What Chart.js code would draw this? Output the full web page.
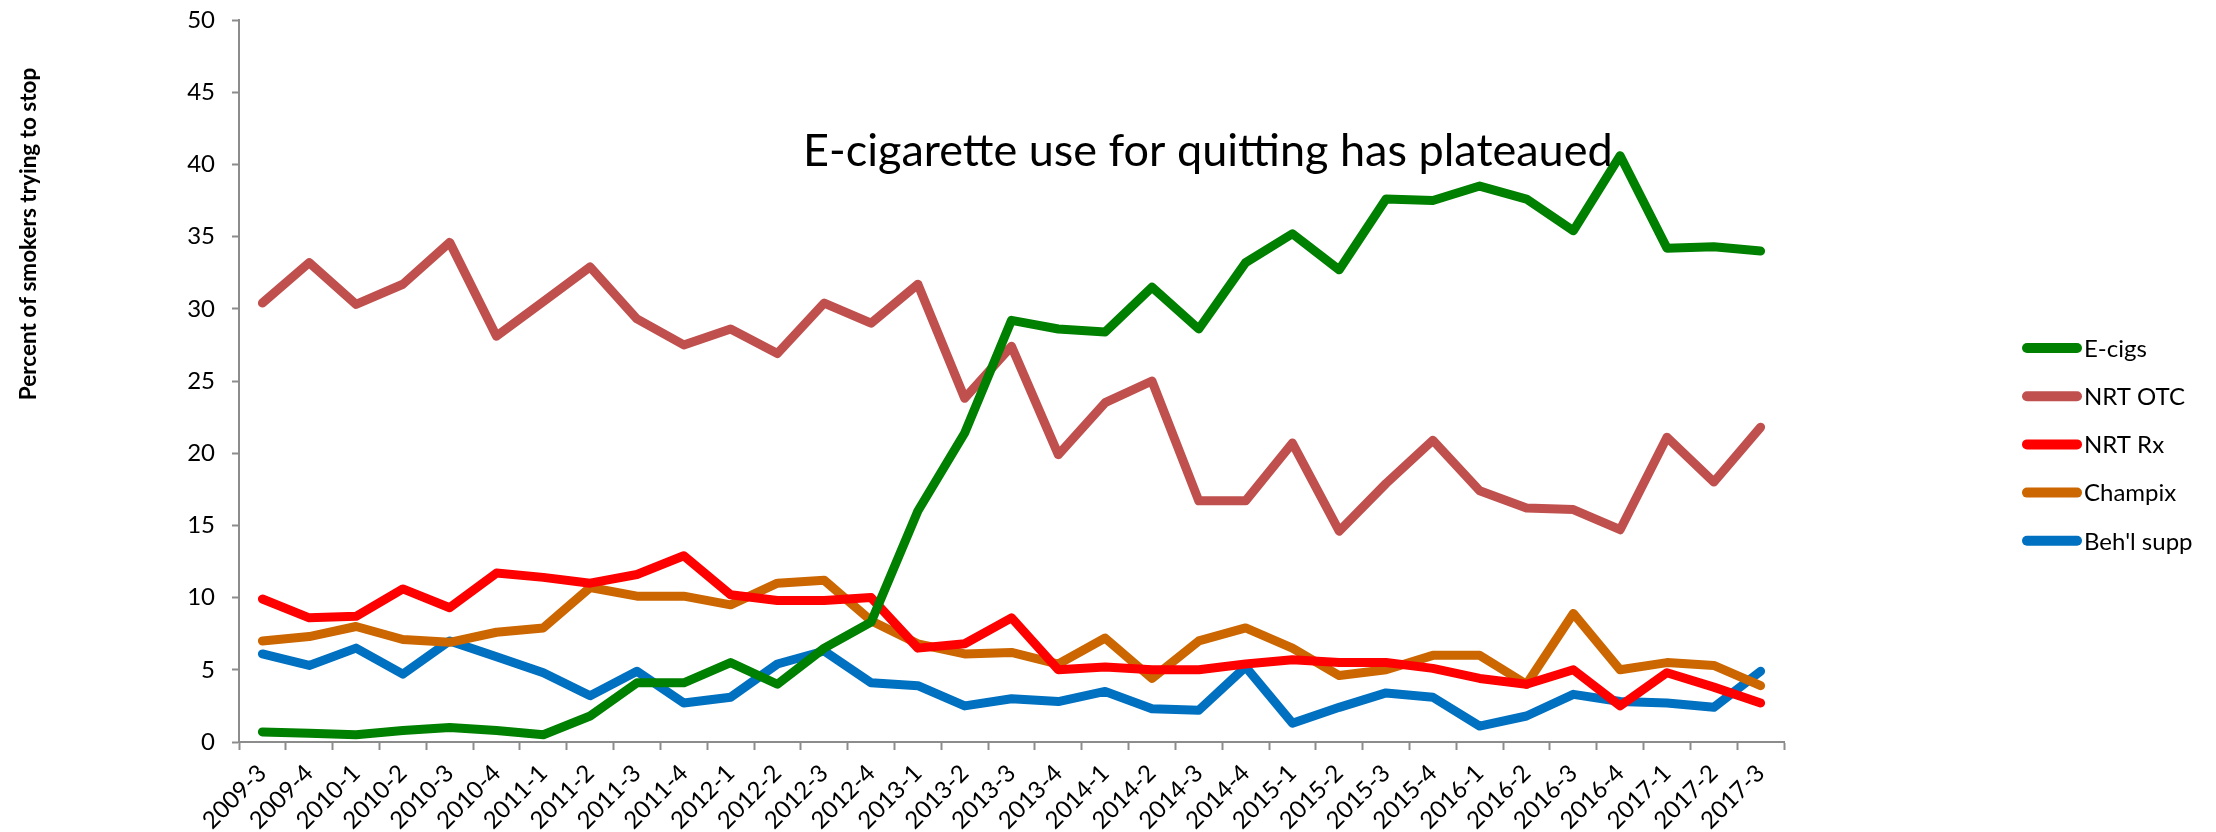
<!DOCTYPE html>
<html>
<head>
<meta charset="utf-8">
<script src="https://cdn.jsdelivr.net/npm/chart.js@4"></script>
<style>
  html, body { margin: 0; padding: 0; background: #ffffff; }
  #wrap { width: 2216px; height: 832px; position: relative; }
</style>
</head>
<body>
<div id="wrap"><canvas id="chart" width="2216" height="832"></canvas></div>
<script>
// Quarterly survey waves
const quarters = [
  '2009-3','2009-4','2010-1','2010-2','2010-3','2010-4','2011-1','2011-2','2011-3','2011-4',
  '2012-1','2012-2','2012-3','2012-4','2013-1','2013-2','2013-3','2013-4','2014-1','2014-2',
  '2014-3','2014-4','2015-1','2015-2','2015-3','2015-4','2016-1','2016-2','2016-3','2016-4',
  '2017-1','2017-2','2017-3'
];

// Percent of smokers trying to stop who used each aid
const eCigs = [0.7, 0.6, 0.5, 0.8, 1.0, 0.8, 0.5, 1.8, 4.1, 4.1,
  5.5, 4.0, 6.5, 8.3, 16.0, 21.4, 29.2, 28.6, 28.4, 31.5,
  28.6, 33.2, 35.2, 32.7, 37.6, 37.5, 38.5, 37.6, 35.4, 40.6,
  34.2, 34.3, 34.0];
const nrtOtc = [30.4, 33.2, 30.3, 31.7, 34.6, 28.1, 30.5, 32.9, 29.3, 27.5,
  28.6, 26.9, 30.4, 29.0, 31.7, 23.8, 27.4, 19.9, 23.5, 25.0,
  16.7, 16.7, 20.7, 14.6, 17.9, 20.9, 17.4, 16.2, 16.1, 14.7,
  21.1, 18.0, 21.8];
const nrtRx = [9.9, 8.6, 8.7, 10.6, 9.3, 11.7, 11.4, 11.0, 11.6, 12.9,
  10.2, 9.8, 9.8, 10.0, 6.5, 6.8, 8.6, 5.0, 5.2, 5.0,
  5.0, 5.4, 5.7, 5.5, 5.5, 5.1, 4.4, 4.0, 5.0, 2.5,
  4.8, 3.8, 2.7];
const champix = [7.0, 7.3, 8.0, 7.1, 6.9, 7.6, 7.9, 10.7, 10.1, 10.1,
  9.5, 11.0, 11.2, 8.4, 6.8, 6.1, 6.2, 5.4, 7.2, 4.4,
  7.0, 7.9, 6.5, 4.6, 5.0, 6.0, 6.0, 4.0, 8.9, 5.0,
  5.5, 5.3, 3.9];
const behlSupp = [6.1, 5.3, 6.5, 4.7, 7.0, 5.9, 4.8, 3.2, 4.9, 2.7,
  3.1, 5.4, 6.3, 4.1, 3.9, 2.5, 3.0, 2.8, 3.5, 2.3,
  2.2, 5.2, 1.3, 2.4, 3.4, 3.1, 1.1, 1.8, 3.3, 2.8,
  2.7, 2.4, 4.9];

const yTicks = [0, 5, 10, 15, 20, 25, 30, 35, 40, 45, 50];

const seriesNames = ['E-cigs', 'NRT OTC', 'NRT Rx', 'Champix', "Beh'l supp"];
const seriesColors = ['#008000', '#C0504D', '#FF0000', '#CC6600', '#0070C0'];
const seriesData = [eCigs, nrtOtc, nrtRx, champix, behlSupp];

const headline = 'E-cigarette use for quitting has plateaued';
const yTitle = 'Percent of smokers trying to stop';

const FONT = 'Lato, "Open Sans", sans-serif';
const AXIS_GREY = '#8c8c8c';

// Headline, rotated axis title and the stacked legend on the right
const overlay = {
  id: 'overlay',
  afterDraw(chart) {
    const ctx = chart.ctx;
    ctx.save();
    ctx.fillStyle = '#000';
    ctx.font = '45px ' + FONT;
    ctx.textAlign = 'left';
    ctx.textBaseline = 'alphabetic';
    ctx.fillText(headline, 803, 166);

    ctx.save();
    ctx.translate(29, 234);
    ctx.rotate(-Math.PI / 2);
    ctx.font = 'bold 22.5px ' + FONT;
    ctx.textAlign = 'center';
    ctx.textBaseline = 'middle';
    ctx.fillText(yTitle, 0, 0);
    ctx.restore();

    chart.data.datasets.forEach((ds, i) => {
      const y = 348 + i * 48.2;
      ctx.strokeStyle = ds.borderColor;
      ctx.lineWidth = 10;
      ctx.lineCap = 'round';
      ctx.beginPath();
      ctx.moveTo(2027, y);
      ctx.lineTo(2077, y);
      ctx.stroke();
      ctx.fillStyle = '#000';
      ctx.font = '24px ' + FONT;
      ctx.textAlign = 'left';
      ctx.textBaseline = 'middle';
      ctx.fillText(ds.label, 2084, y + 1);
    });
    ctx.restore();
  }
};

new Chart(document.getElementById('chart'), {
  type: 'line',
  data: {
    labels: quarters,
    datasets: seriesNames.map((name, i) => ({
      label: name,
      data: seriesData[i],
      borderColor: seriesColors[i],
      backgroundColor: seriesColors[i],
      borderWidth: 9,
      borderJoinStyle: 'round',
      borderCapStyle: 'round',
      pointRadius: 0,
      pointHoverRadius: 0,
      tension: 0,
      fill: false
    }))
  },
  options: {
    responsive: false,
    animation: false,
    events: [],
    layout: { padding: { left: 0, right: 432, top: 20, bottom: 0 } },
    plugins: {
      legend: { display: false },
      title: { display: false },
      tooltip: { enabled: false }
    },
    scales: {
      x: {
        type: 'category',
        offset: true,
        grid: {
          offset: true,
          drawOnChartArea: false,
          drawTicks: true,
          tickLength: 8,
          tickWidth: 2,
          color: AXIS_GREY
        },
        border: { display: true, color: AXIS_GREY, width: 2 },
        ticks: {
          color: '#000',
          font: { family: FONT, size: 24 },
          maxRotation: 45,
          minRotation: 45,
          autoSkip: false,
          padding: 9
        },
        afterFit(scale) {
          scale.height = 90;
          scale.paddingLeft = 0;
          scale.paddingRight = 0;
        }
      },
      y: {
        min: 0,
        max: 50,
        afterBuildTicks(scale) { scale.ticks = yTicks.map(v => ({ value: v })); },
        grid: {
          drawOnChartArea: false,
          drawTicks: true,
          tickLength: 7,
          tickWidth: 2,
          color: AXIS_GREY
        },
        border: { display: true, color: AXIS_GREY, width: 2 },
        ticks: {
          color: '#000',
          font: { family: FONT, size: 24 },
          padding: 17
        },
        afterFit(scale) {
          scale.width = 239;
          scale.paddingTop = 0;
          scale.paddingBottom = 0;
        }
      }
    }
  },
  plugins: [overlay]
});
</script>
</body>
</html>
